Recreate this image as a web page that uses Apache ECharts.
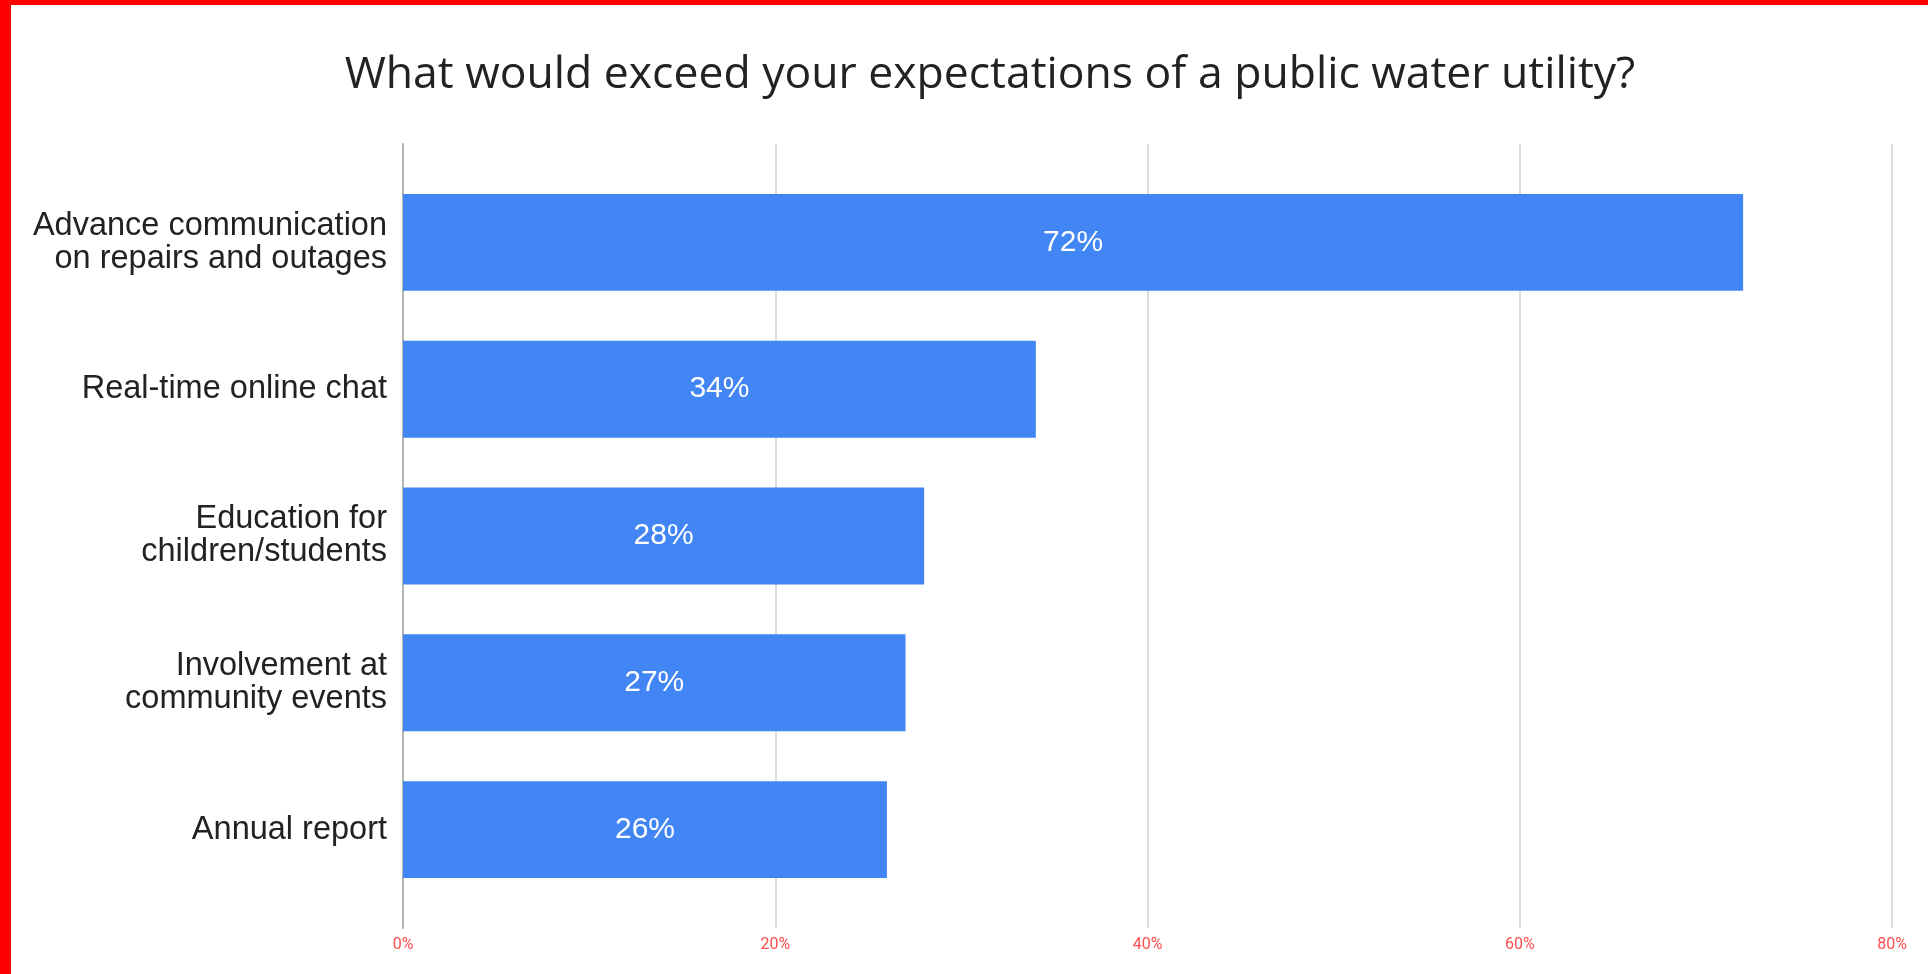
<!DOCTYPE html>
<html>
<head>
<meta charset="utf-8">
<script src="https://cdn.jsdelivr.net/npm/echarts@6/dist/echarts.min.js"></script>
<style>
html,body{margin:0;padding:0;background:#fff;}
#chart{width:1928px;height:974px;}
</style>
</head>
<body>
<div id="chart"></div>
<script>
const titleText = 'What would exceed your expectations of a public water utility?';
const categories = [
  'Advance communication\non repairs and outages',
  'Real-time online chat',
  'Education for\nchildren/students',
  'Involvement at\ncommunity events',
  'Annual report'
];
const values = [72, 34, 28, 27, 26];
const xTicks = [0, 20, 40, 60, 80];

const chart = echarts.init(document.getElementById('chart'), null, {renderer: 'canvas'});
chart.setOption({
  backgroundColor: '#ffffff',
  animation: false,
  title: {
    text: titleText,
    left: 985,
    textAlign: 'center',
    top: 48,
    textStyle: {fontFamily: 'Open Sans', fontSize: 44.5, fontWeight: 'normal', color: '#222222'}
  },
  graphic: [
    {type: 'rect', shape: {x: 0, y: 0, width: 1928, height: 5}, style: {fill: '#ff0000'}, z: 100},
    {type: 'rect', shape: {x: 0, y: 0, width: 11, height: 974}, style: {fill: '#ff0000'}, z: 100}
  ],
  grid: [
    {left: 403, right: 36, top: 169, height: 734},
    {left: 403, right: 36, top: 144, height: 784}
  ],
  xAxis: [
    {type: 'value', gridIndex: 0, min: 0, max: 80, interval: 20, show: false, splitLine: {show: false}},
    {type: 'value', gridIndex: 1, min: xTicks[0], max: xTicks[xTicks.length - 1], interval: 20,
      axisLine: {show: false}, axisTick: {show: false},
      axisLabel: {formatter: '{value}%', color: '#ff4d4d', fontFamily: 'Roboto', fontSize: 16, margin: 9},
      splitLine: {show: true, lineStyle: {color: '#dcdcdc', width: 2}}}
  ],
  yAxis: [
    {type: 'category', gridIndex: 0, data: categories, inverse: true,
      axisLine: {show: false}, axisTick: {show: false},
      axisLabel: {color: '#222222', fontFamily: 'Liberation Sans', fontSize: 32.5, lineHeight: 33, margin: 16, align: 'right'}},
    {type: 'value', gridIndex: 1, min: 0, max: 1, show: true,
      axisLine: {show: true, lineStyle: {color: '#b3b3b3', width: 2}},
      axisTick: {show: false}, axisLabel: {show: false}, splitLine: {show: false}}
  ],
  series: [{
    type: 'bar',
    xAxisIndex: 0,
    yAxisIndex: 0,
    data: values,
    barCategoryGap: '34%',
    itemStyle: {color: '#4285f4'},
    label: {show: true, position: 'inside', formatter: '{c}%', color: '#ffffff', fontFamily: 'Liberation Sans', fontSize: 30}
  }]
});
</script>
</body>
</html>
